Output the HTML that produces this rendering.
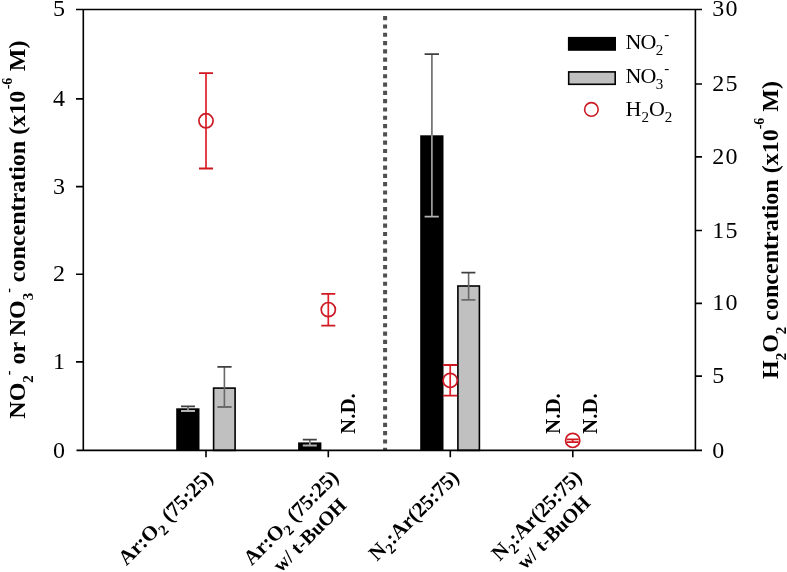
<!DOCTYPE html>
<html><head><meta charset="utf-8"><style>
html,body{margin:0;padding:0;background:#fff;width:787px;height:572px;overflow:hidden}
svg{display:block;will-change:transform}
text{font-family:"Liberation Serif",serif;fill:#000}
.b{font-weight:bold}
</style></head><body>
<svg width="787" height="572" viewBox="0 0 787 572">
<rect width="787" height="572" fill="#fff"/>

<!-- dotted separator -->
<line x1="385.1" y1="16.1" x2="385.1" y2="450" stroke="#505050" stroke-width="4" stroke-dasharray="4.15 4.15"/>

<!-- bars -->
<g fill="#000">
<rect x="176.2" y="408.3" width="23.3" height="42.1"/>
<rect x="298.1" y="442.4" width="23.3" height="8"/>
<rect x="420.2" y="135.3" width="23.3" height="315.1"/>
</g>
<g fill="#c0c0c0" stroke="#000" stroke-width="1.6">
<rect x="213.6" y="388.1" width="21.5" height="62.3"/>
<rect x="457.9" y="286" width="21.5" height="164.4"/>
</g>

<!-- bar error bars -->
<g fill="none">
<path stroke="#686868" stroke-width="1.6" d="M188 406.2V408.3M309.8 439.6V442.4M431.9 54V135.3M224.4 366.8V407M468.6 272.7V299.9"/>
<path stroke="#a8a8a8" stroke-width="1.6" d="M188 408.3V411.2M309.8 442.4V445.5M431.9 135.3V216"/>
<path stroke="#404040" stroke-width="1.8" d="M181 406.3H195M302.8 439.6H316.8M424.6 54.2H439M217.4 366.8H231.6M461.4 272.7H475.4"/>
<path stroke="#6a6a6a" stroke-width="1.8" d="M217.4 407H231.6M461.4 299.9H475.4"/>
<path stroke="#b4b4b4" stroke-width="1.8" d="M181 411H195M302.8 445.5H316.8M424.6 216.6H438.8"/>
</g>

<!-- axes -->
<g stroke="#000" stroke-width="1.6" fill="none">
<path d="M76 9.5H702M76.5 450.4H702"/>
<path d="M83.3 9.5V450.4M695.4 9.5V450.4"/>
<path d="M76 361.9H83.3M76 274.2H83.3M76 186.6H83.3M76 98.9H83.3"/>
<path d="M695.4 376.1H702M695.4 303.4H702M695.4 230.5H702M695.4 156.85H702M695.4 84.07H702"/>
<path d="M206 450.4V457.3M328.3 450.4V457.3M450.3 450.4V457.3M572.8 450.4V457.3"/>
</g>

<!-- H2O2 points -->
<g fill="none">
<path stroke="#e01e28" stroke-width="1.7" d="M206 73.2V168.5"/>
<path stroke="#d01820" stroke-width="1.8" d="M199 73.2H213M199 168.5H213"/>
<circle cx="206" cy="120.8" r="7.1" stroke="#cc1a24" stroke-width="1.7"/>
<path stroke="#e01e28" stroke-width="1.7" d="M328.3 293.9V325.6"/>
<path stroke="#d01820" stroke-width="1.8" d="M321.3 293.9H335.3M321.3 325.6H335.3"/>
<circle cx="328.3" cy="309.6" r="7.1" stroke="#cc1a24" stroke-width="1.7"/>
<path stroke="#e01e28" stroke-width="1.7" d="M450.2 365V395.6"/>
<path stroke="#d01820" stroke-width="1.8" d="M443.2 365H457.2M443.2 395.6H457.2"/>
<circle cx="450.2" cy="380.4" r="7.1" stroke="#cc1a24" stroke-width="1.7"/>
<path stroke="#e01e28" stroke-width="1.7" d="M572.7 439.4V442.2"/>
<path stroke="#d01820" stroke-width="1.8" d="M566.7 439.4H578.7M566.7 442.2H578.7"/>
<circle cx="572.7" cy="440.4" r="7.1" stroke="#cc1a24" stroke-width="1.7"/>
</g>

<!-- left tick labels -->
<g font-size="24" text-anchor="end">
<text x="65" y="457.5">0</text>
<text x="65" y="368.9">1</text>
<text x="65" y="281.2">2</text>
<text x="65" y="193.6">3</text>
<text x="65" y="105.9">4</text>
<text x="65" y="16.4">5</text>
</g>
<!-- right tick labels -->
<g font-size="24" text-anchor="start" letter-spacing="1.2">
<text x="712.3" y="457.5">0</text>
<text x="712.3" y="383.1">5</text>
<text x="712.3" y="310.4">10</text>
<text x="712.3" y="237.5">15</text>
<text x="712.3" y="163.8">20</text>
<text x="712.3" y="91.1">25</text>
<text x="712.3" y="16.4">30</text>
</g>

<!-- left axis title -->
<text class="b" font-size="24" transform="translate(25,418.7) rotate(-90)">NO<tspan font-size="15" dy="8">2</tspan><tspan font-size="14" dy="-20">-</tspan><tspan dy="12"> or NO</tspan><tspan font-size="15" dy="8">3</tspan><tspan font-size="14" dy="-20">-</tspan><tspan dy="12"> concentration (x10</tspan><tspan font-size="14" dx="1.5" dy="-13.5">-6</tspan><tspan dx="0.5" dy="13.5"> M)</tspan></text>

<!-- right axis title -->
<text class="b" font-size="24" text-anchor="middle" transform="translate(777.6,230) rotate(-90)">H<tspan font-size="15" dy="8">2</tspan><tspan dy="-8">O</tspan><tspan font-size="15" dy="8">2</tspan><tspan dy="-8"> concentration (x10</tspan><tspan font-size="14" dy="-13.5">-6</tspan><tspan dy="13.5"> M)</tspan></text>

<!-- N.D. labels -->
<g class="b" font-size="21">
<text transform="translate(355,434) rotate(-90)">N.D.</text>
<text transform="translate(559.7,434) rotate(-90)">N.D.</text>
<text transform="translate(596.9,434) rotate(-90)">N.D.</text>
</g>

<!-- x labels -->
<g class="b" font-size="21" text-anchor="end">
<g transform="translate(214.2,478.5) rotate(-45)"><text x="0" y="0">Ar:O<tspan font-size="15" dy="5.5">2</tspan><tspan dx="0.5" dy="-5.5"> (75:25)</tspan></text></g>
<g transform="translate(339.6,478.5) rotate(-45)"><text x="0" y="0">Ar:O<tspan font-size="15" dy="5.5">2</tspan><tspan dx="0.5" dy="-5.5"> (75:25)</tspan></text><text x="-14.2" y="25.4" font-size="20">w/ t-BuOH</text></g>
<g transform="translate(460.1,478.5) rotate(-45)"><text x="0" y="0">N<tspan font-size="15" dy="5.5">2</tspan><tspan dx="0.5" dy="-5.5">:Ar(25:75)</tspan></text></g>
<g transform="translate(583.0,478.5) rotate(-45)"><text x="0" y="0">N<tspan font-size="15" dy="5.5">2</tspan><tspan dx="0.5" dy="-5.5">:Ar(25:75)</tspan></text><text x="-12" y="24" font-size="20">w/ t-BuOH</text></g>
</g>

<!-- legend -->
<rect x="567.9" y="36.9" width="48.1" height="13.9" fill="#000"/>
<rect x="568.7" y="71.9" width="46.5" height="12.4" fill="#c0c0c0" stroke="#000" stroke-width="1.6"/>
<circle cx="591.4" cy="109.4" r="6.8" fill="none" stroke="#cc1a24" stroke-width="1.6"/>
<g font-size="22">
<text x="625.5" y="48.7">N<tspan dx="-1">O</tspan><tspan font-size="15" dx="-0.5" dy="6.5">2</tspan><tspan font-size="15" dx="1" dy="-16.5">-</tspan></text>
<text x="625.5" y="82.5">N<tspan dx="-1">O</tspan><tspan font-size="15" dx="-0.5" dy="6.5">3</tspan><tspan font-size="15" dx="1" dy="-16.5">-</tspan></text>
<text x="625.5" y="115.5">H<tspan font-size="15" dy="6">2</tspan><tspan dy="-6">O</tspan><tspan font-size="15" dy="6">2</tspan></text>
</g>
</svg>
</body></html>
